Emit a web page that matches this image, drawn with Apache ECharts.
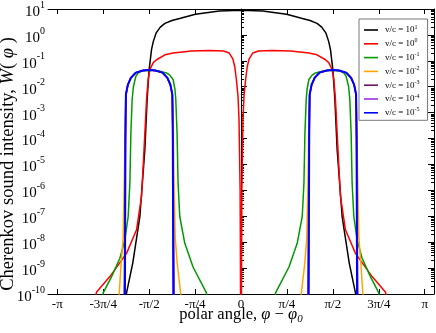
<!DOCTYPE html>
<html>
<head>
<meta charset="utf-8">
<script src="https://cdn.jsdelivr.net/npm/echarts@6.0.0/dist/echarts.min.js"></script>
<style>
html, body { margin: 0; padding: 0; background: #fff; }
#chart { width: 436px; height: 333px; }
</style>
</head>
<body>
<div id="chart"></div>
<script>
const SERIF = '"Liberation Serif", "DejaVu Serif", serif'

// x axis ticks (polar angle)
const phiTicks = [-Math.PI, -3 * Math.PI / 4, -Math.PI / 2, -Math.PI / 4, 0, Math.PI / 4, Math.PI / 2, 3 * Math.PI / 4, Math.PI]
const phiTickLabels = ['-π', '-3π/4', '-π/2', '-π/4', '0', 'π/4', 'π/2', '3π/4', 'π']
// y axis decades
const decadeExponents = [-10, -9, -8, -7, -6, -5, -4, -3, -2, -1, 0, 1]

const seriesNames = ['v/c = 10^1', 'v/c = 10^0', 'v/c = 10^-1', 'v/c = 10^-2', 'v/c = 10^-3', 'v/c = 10^-4', 'v/c = 10^-5']
const seriesColors = ['#000000', '#ff0000', '#009a00', '#ffa500', '#6e1560', '#9b30e0', '#0000ff']

// [phi - phi0, W]
const curveV1e1 = [
  [-1.97, 6e-11], [-1.957, 1.1e-10], [-1.85, 1.6e-9], [-1.73, 9.5e-8], [-1.644, 3.7e-5], [-1.605, 3.2e-3],
  [-1.571, 4.5e-2], [-1.53, 0.27], [-1.50, 0.55], [-1.45, 1.2], [-1.38, 2.0], [-1.30, 2.8], [-1.18, 3.6],
  [-1.05, 4.3], [-0.78, 6.3], [-0.37, 8.3], [0, 8.9],
  [0.37, 8.3], [0.78, 6.3], [1.05, 4.3], [1.18, 3.6], [1.30, 2.8], [1.38, 2.0], [1.45, 1.2], [1.50, 0.55],
  [1.53, 0.27], [1.571, 4.5e-2], [1.605, 3.2e-3], [1.644, 3.7e-5], [1.73, 9.5e-8], [1.85, 1.6e-9],
  [1.957, 1.1e-10], [1.97, 6e-11]
]
const curveV1e0 = [
  [-2.50, 6e-11], [-2.469, 1.2e-10], [-2.242, 4.7e-10], [-1.957, 3.7e-9], [-1.786, 3e-8], [-1.701, 5.8e-7],
  [-1.673, 8.3e-6], [-1.644, 1.6e-4], [-1.615, 3.2e-3], [-1.588, 1.9e-2], [-1.559, 4.6e-2], [-1.50, 8.5e-2],
  [-1.444, 0.11], [-1.30, 0.17], [-1.161, 0.2], [-0.85, 0.24], [-0.534, 0.25], [-0.30, 0.24], [-0.20, 0.2],
  [-0.14, 0.12], [-0.108, 6.2e-2], [-0.079, 1.9e-2], [-0.051, 4.3e-3], [-0.034, 5.4e-4], [-0.015, 1e-6], [0, 1e-14],
  [0.015, 1e-6], [0.034, 5.4e-4], [0.051, 4.3e-3], [0.079, 1.9e-2], [0.108, 6.2e-2], [0.14, 0.12], [0.20, 0.2],
  [0.30, 0.24], [0.534, 0.25], [0.85, 0.24], [1.161, 0.2], [1.30, 0.17], [1.444, 0.11], [1.50, 8.5e-2],
  [1.559, 4.6e-2], [1.588, 1.9e-2], [1.615, 3.2e-3], [1.644, 1.6e-4], [1.673, 8.3e-6], [1.701, 5.8e-7],
  [1.786, 3e-8], [1.957, 3.7e-9], [2.242, 4.7e-10], [2.469, 1.2e-10], [2.50, 6e-11]
]
const curveV1em1 = [
  [-2.38, 5e-11], [-2.356, 1.1e-10], [-2.213, 4.7e-10], [-2.071, 2.4e-9], [-1.986, 1.2e-8], [-1.929, 9.8e-8],
  [-1.900, 1.9e-6], [-1.883, 1.6e-4], [-1.861, 3.2e-3], [-1.840, 1e-2], [-1.798, 2.5e-2], [-1.759, 3.4e-2],
  [-1.695, 4e-2], [-1.571, 4.3e-2], [-1.47, 4.2e-2], [-1.388, 4e-2], [-1.274, 3.4e-2], [-1.217, 2.8e-2],
  [-1.161, 1.9e-2], [-1.130, 8e-3], [-1.115, 3.2e-3], [-1.093, 1.6e-4], [-1.076, 1.9e-6],
  [-1.047, 9.8e-8], [-0.961, 9e-9], [-0.820, 1.1e-9], [-0.591, 1.1e-10], [-0.57, 5e-11],
  [0.57, 5e-11], [0.591, 1.1e-10], [0.820, 1.1e-9], [0.961, 9e-9], [1.047, 9.8e-8], [1.076, 1.9e-6],
  [1.093, 1.6e-4], [1.115, 3.2e-3], [1.130, 8e-3], [1.161, 1.9e-2], [1.217, 2.8e-2], [1.274, 3.4e-2],
  [1.388, 4e-2], [1.47, 4.2e-2], [1.571, 4.3e-2], [1.695, 4e-2], [1.759, 3.4e-2], [1.798, 2.5e-2],
  [1.840, 1e-2], [1.861, 3.2e-3], [1.883, 1.6e-4], [1.900, 1.9e-6], [1.929, 9.8e-8],
  [1.986, 1.2e-8], [2.071, 2.4e-9], [2.213, 4.7e-10], [2.356, 1.1e-10], [2.38, 5e-11]
]
const curveV1em2 = [
  [-2.10, 4e-11], [-2.083, 1e-10], [-2.05, 1.5e-9], [-2.015, 1.5e-8], [-1.99, 1e-5], [-1.978, 1.5e-3],
  [-1.968, 5e-3], [-1.934, 1.2e-2], [-1.883, 2.2e-2], [-1.798, 3.5e-2], [-1.678, 4.2e-2], [-1.571, 4.4e-2],
  [-1.464, 4.2e-2], [-1.344, 3.5e-2], [-1.259, 2.2e-2], [-1.208, 1.2e-2], [-1.174, 5e-3], [-1.163, 1.5e-3],
  [-1.150, 1e-5], [-1.125, 1.5e-8], [-1.09, 1.5e-9], [-1.03, 1e-10], [-1.015, 4e-11],
  [1.015, 4e-11], [1.03, 1e-10], [1.09, 1.5e-9], [1.125, 1.5e-8], [1.150, 1e-5], [1.163, 1.5e-3],
  [1.174, 5e-3], [1.208, 1.2e-2], [1.259, 2.2e-2], [1.344, 3.5e-2], [1.464, 4.2e-2], [1.571, 4.4e-2],
  [1.678, 4.2e-2], [1.798, 3.5e-2], [1.883, 2.2e-2], [1.934, 1.2e-2], [1.968, 5e-3], [1.978, 1.5e-3],
  [1.99, 1e-5], [2.015, 1.5e-8], [2.05, 1.5e-9], [2.083, 1e-10], [2.10, 4e-11]
]
const curveV1em3 = [
  [-1.998, 4e-11], [-1.986, 1e-7], [-1.977, 1e-4], [-1.968, 5e-3], [-1.934, 1.2e-2], [-1.883, 2.2e-2],
  [-1.798, 3.5e-2], [-1.678, 4.2e-2], [-1.571, 4.4e-2], [-1.464, 4.2e-2], [-1.344, 3.5e-2], [-1.259, 2.2e-2],
  [-1.208, 1.2e-2], [-1.174, 5e-3], [-1.164, 1e-4], [-1.155, 1e-7], [-1.143, 4e-11],
  [1.143, 4e-11], [1.155, 1e-7], [1.164, 1e-4], [1.174, 5e-3], [1.208, 1.2e-2], [1.259, 2.2e-2],
  [1.344, 3.5e-2], [1.464, 4.2e-2], [1.571, 4.4e-2], [1.678, 4.2e-2], [1.798, 3.5e-2], [1.883, 2.2e-2],
  [1.934, 1.2e-2], [1.968, 5e-3], [1.977, 1e-4], [1.986, 1e-7], [1.998, 4e-11]
]
const curveV1em4 = [
  [-1.99, 4e-11], [-1.98, 1e-6], [-1.976, 1e-4], [-1.968, 5e-3], [-1.934, 1.2e-2], [-1.883, 2.2e-2],
  [-1.798, 3.5e-2], [-1.678, 4.2e-2], [-1.571, 4.4e-2], [-1.464, 4.2e-2], [-1.344, 3.5e-2], [-1.259, 2.2e-2],
  [-1.208, 1.2e-2], [-1.174, 5e-3], [-1.166, 1e-4], [-1.162, 1e-6], [-1.152, 4e-11],
  [1.152, 4e-11], [1.162, 1e-6], [1.166, 1e-4], [1.174, 5e-3], [1.208, 1.2e-2], [1.259, 2.2e-2],
  [1.344, 3.5e-2], [1.464, 4.2e-2], [1.571, 4.4e-2], [1.678, 4.2e-2], [1.798, 3.5e-2], [1.883, 2.2e-2],
  [1.934, 1.2e-2], [1.968, 5e-3], [1.976, 1e-4], [1.98, 1e-6], [1.99, 4e-11]
]
const curveV1em5 = [
  [-1.985, 5e-11], [-1.976, 1e-4], [-1.968, 5e-3], [-1.934, 1.2e-2], [-1.883, 2.2e-2], [-1.798, 3.5e-2],
  [-1.678, 4.2e-2], [-1.571, 4.4e-2], [-1.464, 4.2e-2], [-1.344, 3.5e-2], [-1.259, 2.2e-2], [-1.208, 1.2e-2],
  [-1.174, 5e-3], [-1.166, 1e-4], [-1.157, 5e-11],
  [1.157, 5e-11], [1.166, 1e-4], [1.174, 5e-3], [1.208, 1.2e-2], [1.259, 2.2e-2], [1.344, 3.5e-2],
  [1.464, 4.2e-2], [1.571, 4.4e-2], [1.678, 4.2e-2], [1.798, 3.5e-2], [1.883, 2.2e-2], [1.934, 1.2e-2],
  [1.968, 5e-3], [1.976, 1e-4], [1.985, 5e-11]
]
const curves = [curveV1e1, curveV1e0, curveV1em1, curveV1em2, curveV1em3, curveV1em4, curveV1em5]

const majorTicks = decadeExponents.map(e => Number('1e' + e))
const minorTicks = []
decadeExponents.slice(0, -1).forEach(e => {
  for (let k = 2; k <= 9; k++) minorTicks.push(Number(k + 'e' + e))
})

const chart = echarts.init(document.getElementById('chart'))

const logAxis = (position, ticks, tickLen, showLine, showLabel) => ({
  type: 'log',
  logBase: 10,
  min: 1e-10,
  max: 10,
  position: position,
  axisLine: { show: showLine, lineStyle: { color: '#000', width: 1 } },
  axisTick: { show: true, inside: true, length: tickLen, customValues: ticks, lineStyle: { color: '#000', width: 1 } },
  axisLabel: showLabel ? {
    customValues: ticks,
    margin: 3,
    formatter: v => '{b|10}{s|' + Math.round(Math.log10(v)) + '}',
    rich: {
      b: { fontFamily: SERIF, fontSize: 15, color: '#000', padding: [6, 0, 0, 0] },
      s: { fontFamily: SERIF, fontSize: 10, color: '#000', padding: [0, 0, 8, 0] }
    }
  } : { show: false },
  splitLine: { show: false },
  minorTick: { show: false }
})

const phiAxis = (position, showLabel) => ({
  type: 'value',
  min: -3.3,
  max: 3.3,
  position: position,
  axisLine: { show: true, onZero: false, lineStyle: { color: '#000', width: 1 } },
  axisTick: { show: true, inside: true, length: 5, customValues: phiTicks, lineStyle: { color: '#000', width: 1 } },
  axisLabel: showLabel ? {
    customValues: phiTicks,
    margin: 4,
    fontFamily: SERIF,
    fontSize: 13,
    color: '#000',
    formatter: v => phiTickLabels[Math.round(v / (Math.PI / 4)) + 4]
  } : { show: false },
  splitLine: { show: false }
})

chart.setOption({
  animation: false,
  backgroundColor: '#fff',
  grid: { left: 48, right: 2, top: 9, bottom: 39, containLabel: false },
  xAxis: [phiAxis('bottom', true), phiAxis('top', false)],
  yAxis: [
    logAxis('left', majorTicks, 6, true, true),
    logAxis('left', minorTicks, 3, false, false),
    logAxis('right', majorTicks, 6, true, false),
    logAxis('right', minorTicks, 3, false, false)
  ],
  legend: {
    orient: 'vertical',
    left: 359,
    top: 19,
    icon: 'rect',
    itemWidth: 14,
    itemHeight: 1.6,
    itemGap: 3.3,
    padding: [5, 8, 3, 5],
    backgroundColor: '#fff',
    borderColor: '#777',
    borderWidth: 1,
    borderRadius: 0,
    data: seriesNames,
    formatter: name => name.replace(/\^(.*)$/, '{s|$1}'),
    textStyle: {
      fontFamily: SERIF,
      fontSize: 9,
      color: '#000',
      padding: [0, 0, 0, 2],
      rich: {
        s: { fontFamily: SERIF, fontSize: 6, color: '#000', padding: [0, 0, 6, 0] }
      }
    }
  },
  graphic: [
    {
      type: 'text',
      x: 241,
      y: 315,
      style: {
        text: 'polar angle, {i|φ} − {i|φ}{sub|0}',
        font: '16.5px ' + SERIF,
        fill: '#000',
        align: 'center',
        verticalAlign: 'middle',
        rich: {
          i: { fontFamily: SERIF, fontSize: 16.5, fontStyle: 'italic', fill: '#000' },
          sub: { fontFamily: SERIF, fontSize: 11, fontStyle: 'italic', fill: '#000', padding: [8, 0, 0, 0] }
        }
      }
    },
    {
      type: 'text',
      x: 8,
      y: 164,
      rotation: Math.PI / 2,
      style: {
        text: 'Cherenkov sound intensity, {i|W}( {i|φ} )',
        font: '18.5px ' + SERIF,
        fill: '#000',
        align: 'center',
        verticalAlign: 'middle',
        rich: {
          i: { fontFamily: SERIF, fontSize: 18.5, fontStyle: 'italic', fill: '#000' }
        }
      }
    }
  ],
  series: curves.map((data, i) => ({
    name: seriesNames[i],
    type: 'line',
    xAxisIndex: 0,
    yAxisIndex: 0,
    data: data,
    symbol: 'none',
    showSymbol: false,
    clip: true,
    lineStyle: { color: seriesColors[i], width: i === 6 ? 2 : 1.5 },
    itemStyle: { color: seriesColors[i] }
  }))
})
</script>
</body>
</html>
